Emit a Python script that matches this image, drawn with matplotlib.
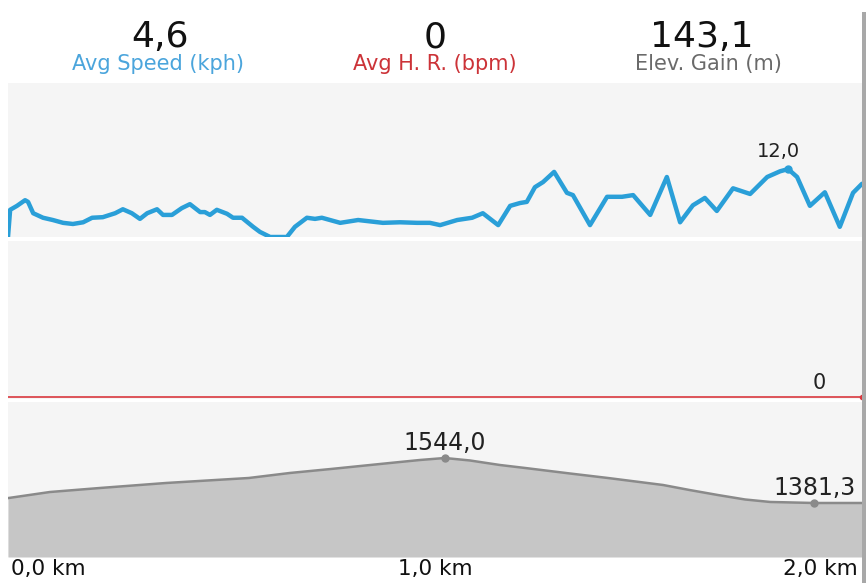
import matplotlib
matplotlib.use("Agg")
import matplotlib.pyplot as plt
from matplotlib.patches import Rectangle
from matplotlib.transforms import ScaledTranslation

# header summary
summary_values = ["4,6", "0", "143,1"]
summary_labels = ["Avg Speed (kph)", "Avg H. R. (bpm)", "Elev. Gain (m)"]

# speed trace (km, kph)
speed_km = [0.0, 0.005, 0.021, 0.040, 0.047, 0.059, 0.082, 0.105, 0.129, 0.152,
            0.176, 0.197, 0.222, 0.251, 0.269, 0.290, 0.309, 0.326, 0.349, 0.363,
            0.384, 0.407, 0.426, 0.450, 0.461, 0.473, 0.489, 0.513, 0.527, 0.548,
            0.574, 0.590, 0.614, 0.653, 0.672, 0.700, 0.719, 0.735, 0.778, 0.820,
            0.878, 0.918, 0.958, 0.988, 1.012, 1.052, 1.087, 1.112, 1.148, 1.176,
            1.199, 1.215, 1.234, 1.253, 1.279, 1.309, 1.323, 1.363, 1.403, 1.438,
            1.464, 1.504, 1.543, 1.574, 1.604, 1.632, 1.660, 1.698, 1.738, 1.778,
            1.808, 1.827, 1.848, 1.878, 1.913, 1.948, 1.979, 2.000]
speed_kph = [0.0, 4.8, 5.5, 6.5, 6.2, 4.2, 3.4, 3.0, 2.5, 2.3,
             2.6, 3.4, 3.5, 4.2, 4.9, 4.2, 3.2, 4.2, 4.9, 3.9,
             3.9, 5.1, 5.8, 4.4, 4.4, 3.9, 4.8, 4.1, 3.4, 3.4,
             1.8, 0.9, 0.0, 0.0, 1.8, 3.4, 3.2, 3.4, 2.5, 3.0,
             2.5, 2.6, 2.5, 2.5, 2.1, 3.0, 3.4, 4.2, 2.1, 5.5,
             6.0, 6.2, 8.8, 9.7, 11.5, 7.8, 7.4, 2.1, 7.1, 7.1,
             7.4, 3.9, 10.6, 2.6, 5.6, 6.9, 4.6, 8.6, 7.6, 10.6,
             11.6, 12.0, 10.6, 5.5, 7.9, 1.8, 7.8, 9.4]

# heart rate (no sensor data)
hr_km = [0.0, 2.0]
hr_bpm = [0, 0]

# elevation profile (km, m)
elev_km = [0.0, 0.098, 0.215, 0.370, 0.564, 0.660, 0.756, 0.895, 0.965, 1.023,
           1.082, 1.152, 1.211, 1.316, 1.405, 1.534, 1.597, 1.663, 1.726, 1.785,
           1.888, 2.0]
elev_m = [1399, 1421, 1435.5, 1453.6, 1471.7, 1489.8, 1504.2, 1526, 1536.8, 1544.0,
          1535, 1518.7, 1507.9, 1488, 1471.7, 1446.4, 1428, 1410, 1394, 1385,
          1381.3, 1381.3]

dist_ticks = [0, 1, 2]
dist_labels = ["0,0 km", "1,0 km", "2,0 km"]

W, H = 866, 583
fig = plt.figure(figsize=(W / 100, H / 100), dpi=100, facecolor="white")


def panel(top, bottom):
    ax = fig.add_axes([8 / W, (H - bottom) / H, 854 / W, (bottom - top) / H])
    ax.set_facecolor("#f5f5f5")
    for s in ax.spines.values():
        s.set_visible(False)
    ax.set_xticks([])
    ax.set_yticks([])
    ax.set_xlim(0, 2.0)
    return ax


# header
header_x = [160, 435, 702]
label_x = [158, 435, 708]
label_colors = ["#4ba5dc", "#cc3338", "#6a6a6a"]
for v, lab, x, lx, c in zip(summary_values, summary_labels, header_x, label_x, label_colors):
    fig.text(x / W, 1 - 47 / H, v, ha="center", va="baseline", fontsize=26, color="#111111")
    fig.text(lx / W, 1 - 70 / H, lab, ha="center", va="baseline", fontsize=15, color=c)

# speed
ax1 = panel(83, 237)
ax1.set_ylim(0, 27.2)
ax1.plot(speed_km, speed_kph, color="#2a9fd8", lw=3.2, solid_joinstyle="round",
         solid_capstyle="round", clip_on=True)
i_max = speed_kph.index(max(speed_kph))
ax1.plot(speed_km[i_max], speed_kph[i_max], "o", color="#2a9fd8", ms=5)
ax1.annotate(f"{speed_kph[i_max]:.1f}".replace(".", ","), (speed_km[i_max], speed_kph[i_max]),
             xytext=(-7, 6), textcoords="offset points", ha="center", va="bottom",
             fontsize=14, color="#222222")

# heart rate
ax2 = panel(241, 399)
ax2.set_ylim(-0.1, 7.8)
ax2.plot(hr_km, hr_bpm, color="#d9383e", lw=1.2)
ax2.plot(hr_km[-1], hr_bpm[-1], "o", color="#d9383e", ms=3, clip_on=False)
ax2.annotate(str(hr_bpm[-1]), (hr_km[-1], hr_bpm[-1]), xytext=(-31, 3),
             textcoords="offset points", ha="center", va="bottom",
             fontsize=15, color="#222222")

# elevation
ax3 = panel(402, 557)
ax3.set_ylim(1186, 1746.5)
ax3.fill_between(elev_km, elev_m, 1186, color="#c6c6c6", lw=0)
ax3.plot(elev_km, elev_m, color="#8a8a8a", lw=1.8, solid_joinstyle="round")
i_top = elev_m.index(max(elev_m))
i_low = 20
for i in (i_top, i_low):
    ax3.plot(elev_km[i], elev_m[i], "o", color="#8a8a8a", ms=5)
    ax3.annotate(f"{elev_m[i]:.1f}".replace(".", ","), (elev_km[i], elev_m[i]),
                 xytext=(0, 2), textcoords="offset points", ha="center", va="bottom",
                 fontsize=17, color="#222222", annotation_clip=False, clip_on=True)

ax3.set_xticks(dist_ticks)
ax3.set_xticklabels(dist_labels, fontsize=15.5, color="#111111")
ax3.tick_params(axis="x", length=0, pad=1.5)
shifts = [3, 0, -4]
for t, ha, dx in zip(ax3.get_xticklabels(), ["left", "center", "right"], shifts):
    t.set_ha(ha)
    t.set_transform(t.get_transform() + ScaledTranslation(dx / 100, 0, fig.dpi_scale_trans))

# right edge shadow
fig.patches.append(Rectangle((862 / W, 0), 4 / W, 1 - 12 / H, transform=fig.transFigure,
                             color="#a8a8a8", lw=0))

fig.savefig("out.png", dpi=100, facecolor="white")
